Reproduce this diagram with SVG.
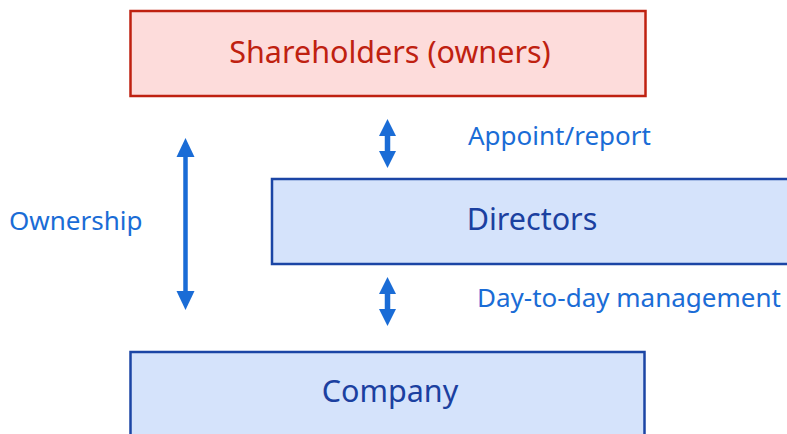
<svg xmlns="http://www.w3.org/2000/svg" width="787" height="434" viewBox="0 0 787 434">
<style>
.box-red{fill:#fddcdb;stroke:#bf2110;stroke-width:2.5}
.box-blue{fill:#d5e3fb;stroke:#1b45a5;stroke-width:2.5}
.t-red{font-family:"Noto Sans",sans-serif;font-size:30.5px;fill:#bf2110;text-anchor:middle}
.t-blue{font-family:"Noto Sans",sans-serif;font-size:30.5px;fill:#1b40a0;text-anchor:middle}
.lbl{font-family:"Noto Sans",sans-serif;font-size:26px;fill:#1a6cd6}
.arr{stroke:#1a6cd6;stroke-width:4.5;fill:none}
.arr-s{stroke:#1a6cd6;stroke-width:5.5;fill:none}
.head{fill:#1a6cd6}
</style>
<rect width="787" height="434" fill="#ffffff"/>
<g id="shareholders">
<rect class="box-red" x="130.5" y="11" width="515" height="85"/>
<text class="t-red" x="390" y="63">Shareholders (owners)</text>
</g>
<g id="directors">
<rect class="box-blue" x="272" y="179" width="520" height="85"/>
<text class="t-blue" x="532" y="230">Directors</text>
</g>
<g id="company">
<rect class="box-blue" x="130.5" y="352" width="514" height="90"/>
<text class="t-blue" x="390" y="402">Company</text>
</g>
<g id="connectors">
<line class="arr" x1="185.5" y1="152" x2="185.5" y2="296"/>
<polygon class="head" points="185.5,138 176.5,157 194.5,157"/>
<polygon class="head" points="185.5,310 176.5,291 194.5,291"/>
<line class="arr-s" x1="387.5" y1="132" x2="387.5" y2="156"/>
<polygon class="head" points="387.5,119 379,136 396,136"/>
<polygon class="head" points="387.5,168 379,151 396,151"/>
<line class="arr-s" x1="387.5" y1="290" x2="387.5" y2="313"/>
<polygon class="head" points="387.5,277 379,294 396,294"/>
<polygon class="head" points="387.5,326 379,309 396,309"/>
</g>
<g id="labels">
<text class="lbl" x="468" y="145">Appoint/report</text>
<text class="lbl" x="9" y="230">Ownership</text>
<text class="lbl" x="477" y="307">Day-to-day management</text>
</g>
</svg>
